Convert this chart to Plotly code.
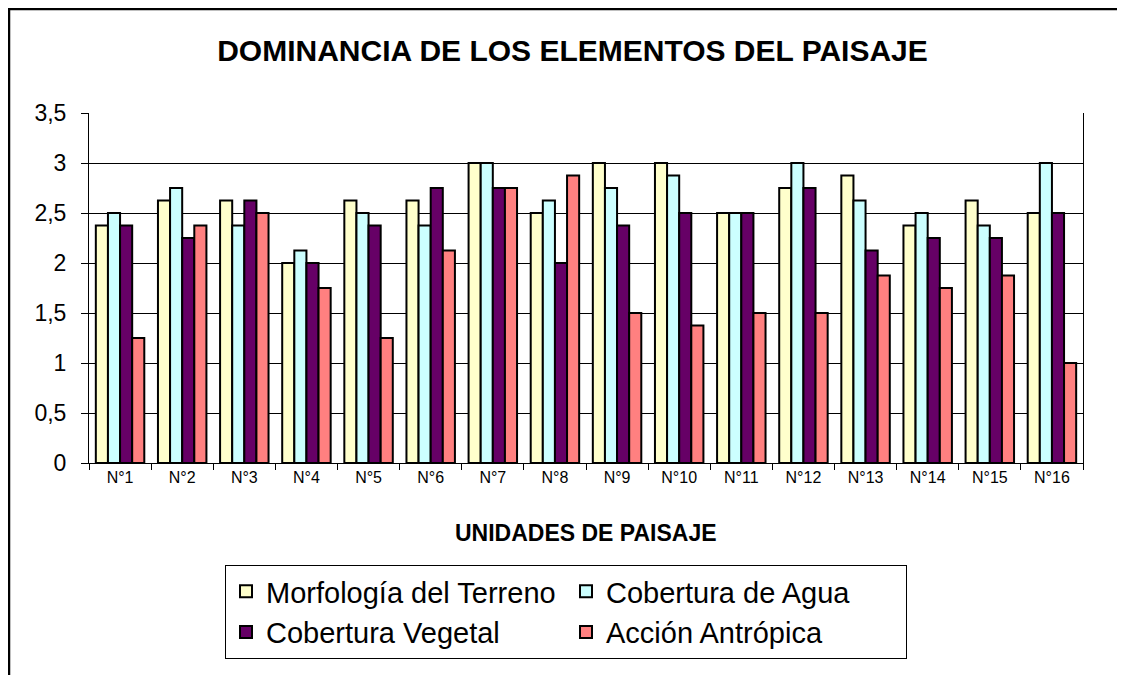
import plotly.graph_objects as go

# unidades de paisaje
unidades = ["N°%d" % i for i in range(1, 17)]

morfologia = [2.375, 2.625, 2.625, 2.0, 2.625, 2.625, 3.0, 2.5,
              3.0, 3.0, 2.5, 2.75, 2.875, 2.375, 2.625, 2.5]
agua = [2.5, 2.75, 2.375, 2.125, 2.5, 2.375, 3.0, 2.625,
        2.75, 2.875, 2.5, 3.0, 2.625, 2.5, 2.375, 3.0]
vegetal = [2.375, 2.25, 2.625, 2.0, 2.375, 2.75, 2.75, 2.0,
           2.375, 2.5, 2.5, 2.75, 2.125, 2.25, 2.25, 2.5]
antropica = [1.25, 2.375, 2.5, 1.75, 1.25, 2.125, 2.75, 2.875,
             1.5, 1.375, 1.5, 1.5, 1.875, 1.75, 1.875, 1.0]

series = [
    ("Morfología del Terreno", morfologia, "#FFFFCC"),
    ("Cobertura de Agua", agua, "#CCFFFF"),
    ("Cobertura Vegetal", vegetal, "#660066"),
    ("Acción Antrópica", antropica, "#FF8080"),
]

FONT = "Liberation Sans, Arial, sans-serif"

fig = go.Figure()
for name, vals, color in series:
    fig.add_trace(go.Bar(
        x=unidades, y=vals, name=name,
        marker=dict(color=color, line=dict(color="black", width=2)),
    ))

# the page body has an 8px margin, so the figure is laid out 8px up/left
fig.update_layout(
    width=1125, height=675,
    margin=dict(l=81, r=50, t=105, b=220),
    paper_bgcolor="white", plot_bgcolor="white",
    barmode="group", bargap=0.22, bargroupgap=0,
    separators=", ",
    font=dict(family=FONT, color="black"),
    title=dict(text="<b>DOMINANCIA DE LOS ELEMENTOS DEL PAISAJE</b>",
               font=dict(size=30, color="black"),
               x=564.5 / 1125, xref="container", xanchor="center",
               y=1 - 42 / 675, yref="container", yanchor="middle"),
    legend=dict(orientation="h", x=(225 - 89) / 994, y=(463 - 565) / 350,
                xanchor="left", yanchor="top",
                font=dict(size=29), bordercolor="black", borderwidth=1,
                entrywidth=295, entrywidthmode="pixels", traceorder="normal"),
    showlegend=True,
)

fig.update_yaxes(range=[0, 3.5], dtick=0.5, showgrid=True, gridcolor="black", gridwidth=1,
                 showline=True, linecolor="black", linewidth=1, mirror=True,
                 ticks="outside", ticklen=7, tickcolor="black", ticklabelstandoff=10,
                 tickfont=dict(size=23), zeroline=False)
fig.update_xaxes(showline=True, linecolor="black", linewidth=1,
                 ticks="outside", tickson="boundaries", ticklen=6, tickcolor="black",
                 tickfont=dict(size=16))

fig.add_annotation(text="<b>UNIDADES DE PAISAJE</b>", xref="paper", yref="paper",
                   x=0.5, y=(463 - 533) / 350, showarrow=False,
                   font=dict(size=23, color="black"), xanchor="center", yanchor="middle")

# marco exterior del grafico
fig.add_shape(type="rect", xref="paper", yref="paper",
              x0=(9 - 89) / 994, x1=(1140 - 89) / 994,
              y0=(463 - 700) / 350, y1=(463 - 9) / 350,
              line=dict(color="black", width=2.5), fillcolor="rgba(0,0,0,0)",
              layer="below")

fig.write_html("out.html")
